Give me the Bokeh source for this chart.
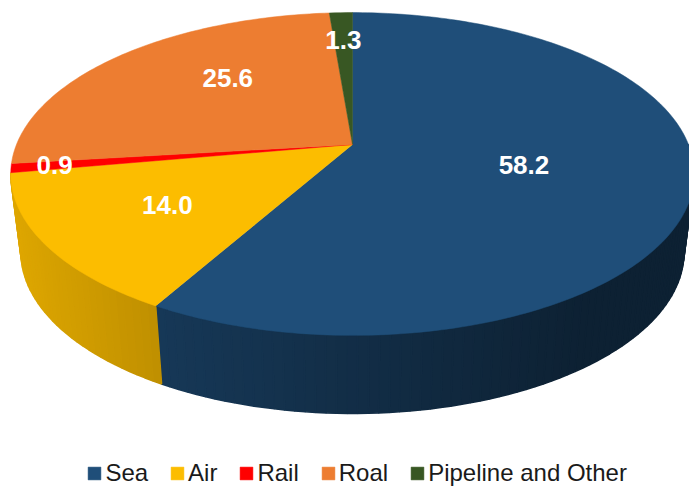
import math
from bokeh.plotting import figure
from bokeh.models import Range1d, Legend, LegendItem
from bokeh.core.properties import value
from bokeh.embed import file_html
from bokeh.resources import INLINE

# --- data ---
categories = ["Sea", "Air", "Rail", "Roal", "Pipeline and Other"]
shares = [58.2, 14.0, 0.9, 25.6, 1.3]

# --- style / layout ---
colors = ["#1f4e79", "#fcbd00", "#ff0000", "#ed7d31", "#385723"]
shade_left = [0.72, 0.88, 0.8, 0.8, 0.8]
shade_right = [0.42, 0.76, 0.7, 0.7, 0.7]
label_radius = [0.515, 0.63, 0.875, 0.61, 0.76]
label_turn = [0, 0, 0, 9.5, 0]

CX, CY = 352.0, 144.0
S, H, K = 336.0, 156.0, 0.1827
BOTTOM_X = 0.97
DEPTH = 78.0


def project(turn_deg, r=1.0):
    t = math.radians(turn_deg)
    u, v = r * math.sin(t), r * math.cos(t)
    d = 1 + K * v
    return CX + S * u / d, CY - H * v / d


def lower(x, y):
    return CX + (x - CX) * BOTTOM_X, y + DEPTH


def hex_scale(c, f):
    rgb = [int(c[i:i + 2], 16) for i in (1, 3, 5)]
    return "#%02x%02x%02x" % tuple(int(round(a * f)) for a in rgb)


p = figure(width=689, height=486, output_backend="svg", toolbar_location=None,
           x_range=Range1d(0, 689), y_range=Range1d(486, 0), min_border=0,
           outline_line_color=None, background_fill_color="white",
           border_fill_color="white")
p.axis.visible = False
p.grid.visible = False

total = sum(shares)
edges = [0.0]
for s in shares:
    edges.append(edges[-1] + 360.0 * s / total)

# side walls, drawn strip by strip to give the horizontal shading
for i, col in enumerate(colors):
    a0, a1 = edges[i], edges[i + 1]
    lo, hi = max(a0, 90.0), min(a1, 270.0)
    if lo >= 255 or hi <= lo:
        continue
    n = max(2, int((hi - lo) / 1.5))
    pts = [project(lo + (hi - lo) * j / n) for j in range(n + 1)]
    xs_all = [q[0] for q in pts]
    xmin, xmax = min(xs_all), max(xs_all)
    for j in range(n):
        x0, y0 = pts[j]
        x1, y1 = pts[j + 1]
        bx0, by0 = lower(x0, y0)
        bx1, by1 = lower(x1, y1)
        mid = ((x0 + x1) / 2 - xmin) / max(xmax - xmin, 1)
        mid = min(1.0, mid / 0.8) if i == 0 else mid
        f = shade_left[i] + (shade_right[i] - shade_left[i]) * mid
        c = hex_scale(col, f)
        p.patch([x0, x1, bx1, bx0], [y0, y1, by1, by0], fill_color=c, line_color=c, line_width=1.6)

# top faces
tops = []
for i, col in enumerate(colors):
    a0, a1 = edges[i], edges[i + 1]
    n = max(3, int((a1 - a0) / 1.0))
    rim = [project(a0 + (a1 - a0) * j / n) for j in range(n + 1)]
    xs = [CX] + [q[0] for q in rim]
    ys = [CY] + [q[1] for q in rim]
    tops.append(p.patch(xs, ys, fill_color=col, line_color=col, line_width=0.5))

# value labels
lx, ly, lt = [], [], []
for i, s in enumerate(shares):
    m = (edges[i] + edges[i + 1]) / 2 + label_turn[i]
    x, y = project(m, label_radius[i])
    lx.append(x)
    ly.append(y)
    lt.append(f"{s:.1f}")
p.text(lx, ly, text=lt, text_color="white", text_font=value("Liberation Sans"),
       text_font_style="bold", text_font_size="26px", text_align="center",
       text_baseline="middle")

legend = Legend(items=[LegendItem(label=c, renderers=[r]) for c, r in zip(categories, tops)],
                orientation="horizontal", location=(86.4, -1), padding=0, margin=0, spacing=21,
                glyph_width=16, glyph_height=16, label_standoff=3,
                label_text_font="Liberation Sans", label_text_font_size="24px",
                label_text_color="#1a1a1a", border_line_color=None,
                background_fill_alpha=0)
p.add_layout(legend, "center")

open("out.html", "w").write(file_html(p, INLINE))
